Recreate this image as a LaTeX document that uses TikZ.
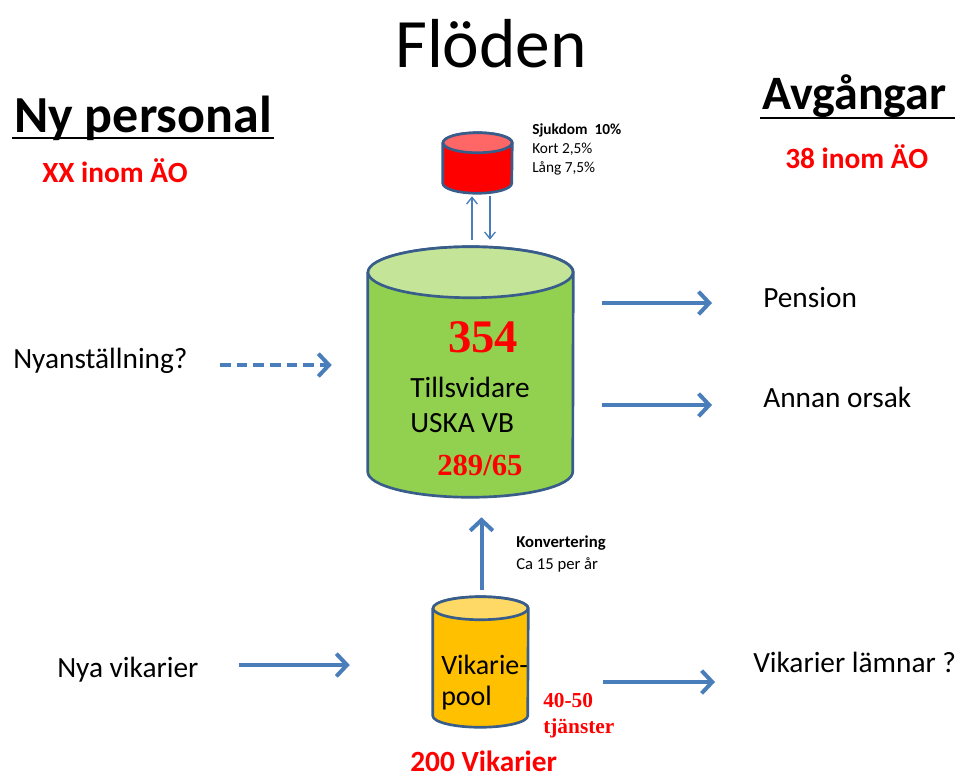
\documentclass[tikz,border=0pt]{standalone}
\usepackage{fontspec}
\setmainfont{Carlito}
\newfontfamily\timesfont{Liberation Serif}
\usetikzlibrary{positioning,calc,arrows.meta}
\definecolor{flowblue}{RGB}{74,126,187}
\definecolor{tankline}{RGB}{56,93,138}
\definecolor{greenbody}{RGB}{146,208,80}
\definecolor{greentop}{RGB}{196,228,152}
\definecolor{sickbody}{RGB}{255,0,0}
\definecolor{sicktop}{RGB}{255,102,102}
\definecolor{poolbody}{RGB}{255,192,0}
\definecolor{pooltop}{RGB}{255,217,102}
\newcommand{\fsz}[2]{\fontsize{#1}{#2}\selectfont}

\begin{document}
\begin{tikzpicture}[x={(0.75pt,0)},y={(0,-0.75pt)},
    tank/.style={rectangle, inner sep=0pt},
    tankline/.style={draw=tankline, line width=2pt, line join=round},
    txt/.style={inner sep=0pt, anchor=base west, align=left},
    flow/.style={draw=flowblue, line width=3pt, -{Straight Barb[length=8pt,width=17pt]}},
    thinflow/.style={draw=flowblue, line width=1pt, -{Straight Barb[length=5pt,width=8pt]}}]
  \useasboundingbox (0,0) rectangle (963,778);

  % % Headings
  \node[txt, font=\fsz{52pt}{60pt}] (title) at (395,67) {Flöden};
  \node[txt, font=\fsz{39pt}{46pt}\bfseries] (newstaff) at (14,132) {Ny personal};
  \node[txt, font=\fsz{22pt}{26pt}\bfseries, text=red] (newcount) at (42,182) {XX inom ÄO};
  \node[txt, font=\fsz{36pt}{42pt}\bfseries] (leavers) at (762,109) {Avgångar};
  \node[txt, font=\fsz{22pt}{26pt}\bfseries, text=red] (leavecount) at (785,168) {38 inom ÄO};
  \draw[line width=2.2pt] ($ (newstaff.base west) + (-2,6) $) -- ($ (newstaff.base east) + (2,6) $);
  \draw[line width=2.2pt] ($ (leavers.base west) + (-2,9) $) -- ($ (leavers.base east) + (8,9) $);

  % % Tanks
  \node[tank, minimum width=153.75pt, minimum height=187.5pt] (usk) at (470.5,372) {};
  \node[tank, minimum width=51.75pt, minimum height=45pt] (sick) at (477.5,163) {};
  \node[tank, minimum width=71.25pt, minimum height=97.5pt] (pool) at (480.5,662) {};

  % green one
  \filldraw[tankline, fill=greenbody] ($ (usk.north west) + (0,25.5) $) -- ($ (usk.south west) + (0,-25.5) $)
    arc[start angle=180, end angle=360, x radius=76.875pt, y radius=19.125pt]
    -- ($ (usk.north east) + (0,25.5) $)
    arc[start angle=0, end angle=180, x radius=76.875pt, y radius=19.125pt] -- cycle;
  \filldraw[tankline, fill=greentop] ($ (usk.north) + (0,25.5) $) ellipse[x radius=76.875pt, y radius=19.125pt];
  % red one
  \filldraw[tankline, fill=sickbody] ($ (sick.north west) + (0,10) $) -- ($ (sick.south west) + (0,-10) $)
    arc[start angle=180, end angle=360, x radius=25.875pt, y radius=7.5pt]
    -- ($ (sick.north east) + (0,10) $)
    arc[start angle=0, end angle=180, x radius=25.875pt, y radius=7.5pt] -- cycle;
  \filldraw[tankline, fill=sicktop] ($ (sick.north) + (0,10) $) ellipse[x radius=25.875pt, y radius=7.5pt];
  % yellow one
  \filldraw[tankline, fill=poolbody] ($ (pool.north west) + (0,11.5) $) -- ($ (pool.south west) + (0,-11.5) $)
    arc[start angle=180, end angle=360, x radius=35.625pt, y radius=8.625pt]
    -- ($ (pool.north east) + (0,11.5) $)
    arc[start angle=0, end angle=180, x radius=35.625pt, y radius=8.625pt] -- cycle;
  \filldraw[tankline, fill=pooltop] ($ (pool.north) + (0,11.5) $) ellipse[x radius=35.625pt, y radius=8.625pt];

  % % Texts in and round the tanks (base = last line)
  \node[txt, font=\fsz{35pt}{40pt}\timesfont\bfseries, text=red] (permcount) at (448,352) {354};
  \node[txt, font=\fsz{22pt}{26pt}] (perm) at (410,432) {Tillsvidare\\USKA VB};
  \node[txt, font=\fsz{23pt}{27pt}\timesfont\bfseries, text=red] (permsplit) at (437,475) {289/65};
  \node[txt, font=\fsz{11.5pt}{13.9pt}] (sicknote) at (532,172) {\textbf{Sjukdom\ \ 10\%}\\Kort 2,5\%\\Lång 7,5\%};
  \node[txt, font=\fsz{21pt}{23pt}] (pooltext) at (441,705) {Vikarie-\\pool};
  \node[txt, font=\fsz{16pt}{19pt}\timesfont\bfseries, text=red] (pooljobs) at (543,733) {40-50\\tjänster};
  \node[txt, font=\fsz{22pt}{26pt}\bfseries, text=red] (poolcount) at (410,771) {200 Vikarier};
  \node[txt, font=\fsz{12.5pt}{16pt}] (convert) at (516,569) {\textbf{Konvertering}\\Ca 15 per år};

  % % Flow labels
  \node[txt, font=\fsz{22pt}{26pt}] (hire) at (13,368) {Nyanställning?};
  \node[txt, font=\fsz{22pt}{26pt}] (pension) at (763,307) {Pension};
  \node[txt, font=\fsz{22pt}{26pt}] (other) at (763,407) {Annan orsak};
  \node[txt, font=\fsz{22pt}{26pt}] (newsubs) at (57,677) {Nya vikarier};
  \node[txt, font=\fsz{22pt}{26pt}] (subsleave) at (753,672) {Vikarier lämnar ?};

  % % Arrows
  \draw[flow, dash pattern=on 8pt off 4.5pt] ($ (hire.base east) + (32,-3) $) -- ($ (hire.base east -| usk.west) + (-36,-3) $);
  \draw[flow] ($ (usk.east |- pension.base) + (29,-4) $) -- ($ (pension.base west) + (-51,-4) $);
  \draw[flow] ($ (usk.east |- other.base) + (29,-2) $) -- ($ (other.base west) + (-51,-2) $);
  \draw[flow] ($ (newsubs.base east) + (40,-12) $) -- ($ (newsubs.base east -| pool.west) + (-83,-12) $);
  \draw[flow] ($ (pool.east |- subsleave.base) + (75,10) $) -- ($ (subsleave.base west) + (-38,10) $);
  \draw[flow] ($ (pool.north) + (1,-7) $) -- ($ (pool.north |- usk.south) + (1,20) $);
  \draw[thinflow] ($ (sick.south |- usk.north) + (-5.5,-7) $) -- ($ (sick.south) + (-5.5,3) $);
  \draw[thinflow] ($ (sick.south) + (12.5,3) $) -- ($ (sick.south |- usk.north) + (12.5,-7) $);
\end{tikzpicture}
\end{document}
